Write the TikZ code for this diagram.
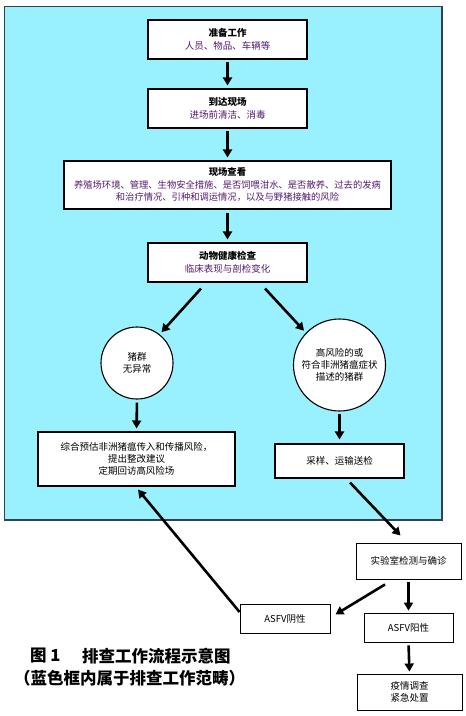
\documentclass[tikz,border=0pt]{standalone}
\usepackage{fontspec}
\setmainfont{Noto Sans CJK SC}
\usetikzlibrary{arrows.meta}
\definecolor{panel}{RGB}{153,240,254}
\definecolor{panelborder}{RGB}{55,65,75}
\definecolor{subtext}{RGB}{85,25,115}
\tikzset{
  box/.style={draw=black, line width=1.1pt, fill=white, align=center, font=\fontsize{9.5}{12.5}\selectfont, inner sep=1pt},
  roundbox/.style={draw=black, line width=1.1pt, fill=white, circle, align=center, font=\fontsize{9.5}{12}\selectfont, inner sep=0pt},
  arr/.style={line width=2.6pt, -{Triangle[length=8pt,width=9pt]}},
  captionstyle/.style={font=\fontsize{16.5}{18}\selectfont\bfseries, inner sep=0pt, anchor=west}
}
\begin{document}
\begin{tikzpicture}[x=1pt,y=-1pt]
\useasboundingbox (0,0) rectangle (466,716);
\fill[white] (0,0) rectangle (466,716);
\draw[fill=panel, draw=panelborder, line width=1.3pt] (4.5,6.5) rectangle (442,520);

\node[box, minimum width=159pt, minimum height=39pt] (b1) at (227.5,39.5)
  {{\bfseries 准备工作}\\\textcolor{subtext}{人员、物品、车辆等}};
\node[box, minimum width=159pt, minimum height=39pt] (b2) at (227.5,108.5)
  {{\bfseries 到达现场}\\\textcolor{subtext}{进场前清洁、消毒}};
\node[box, minimum width=327pt, minimum height=48pt, font=\fontsize{9.3}{12.5}\selectfont] (b3) at (227.5,185)
  {{\bfseries 现场查看}\\\textcolor{subtext}{养殖场环境、管理、生物安全措施、是否饲喂泔水、是否散养、过去的发病}\\\textcolor{subtext}{和治疗情况、引种和调运情况，以及与野猪接触的风险}};
\node[box, minimum width=159pt, minimum height=39pt] (b4) at (227.5,262.5)
  {{\bfseries 动物健康检查}\\\textcolor{subtext}{临床表现与剖检变化}};

\node[roundbox, minimum size=72pt] (cl) at (137,363) {猪群\\无异常};
\node[roundbox, minimum size=92pt] (cr) at (339.5,365) {高风险的或\\符合非洲猪瘟症状\\描述的猪群};

\node[box, minimum width=197pt, minimum height=54pt, font=\fontsize{9.5}{12}\selectfont] (bl) at (136.5,459)
  {综合预估非洲猪瘟传入和传播风险，\\提出整改建议\\定期回访高风险场};
\node[box, minimum width=129pt, minimum height=34pt] (br) at (339.5,461) {采样、运输送检};

\node[box, minimum width=105pt, minimum height=36pt, line width=0.9pt] (lab) at (408.5,561) {实验室检测与确诊};
\node[box, minimum width=89pt, minimum height=29pt, line width=0.9pt] (pos) at (408.5,627.5) {ASFV阳性};
\node[box, minimum width=105pt, minimum height=36pt, line width=0.9pt] (epi) at (409.5,692) {疫情调查\\紧急处置};
\node[box, minimum width=90pt, minimum height=29pt, line width=0.9pt] (neg) at (285,618.5) {ASFV阴性};

\draw[arr, shorten <=2pt, shorten >=3pt] (b1.south) -- (b2.north);
\draw[arr, shorten <=2pt, shorten >=3pt] (b2.south) -- (b3.north);
\draw[arr, shorten <=3pt, shorten >=3pt] (b3.south) -- (b4.north);
\draw[arr] ([xshift=-26.5pt,yshift=-6pt]b4.south) -- ([xshift=2pt,yshift=2pt]cl.52);
\draw[arr] ([xshift=37.5pt,yshift=-6pt]b4.south) -- ([xshift=-2pt,yshift=2pt]cr.136);
\draw[arr, shorten <=3pt, shorten >=3pt] (cl.south) -- (bl.north);
\draw[arr, shorten <=2pt, shorten >=4pt] (cr.south) -- (br.north);
\draw[arr] ([xshift=10.5pt,yshift=-4pt]br.south) -- ([xshift=-8pt,yshift=7pt]lab.north);
\draw[arr, shorten <=3pt, shorten >=2pt] (lab.south) -- (pos.north);
\draw[arr, shorten <=3pt, shorten >=2pt] (pos.south) -- (epi.north);
\draw[arr] ([xshift=-23.5pt,yshift=-5pt]lab.south) -- ([xshift=5pt,yshift=4pt]neg.east);
\draw[arr] ([yshift=6.5pt]neg.west) -- ([xshift=1.5pt,yshift=-3pt]bl.south);

\node[captionstyle] (c1) at (30,656) {图 1};
\node[captionstyle] (c2) at (82,656) {排查工作流程示意图};
\node[captionstyle, anchor=west] (c3) at (14,678) {（蓝色框内属于排查工作范畴）};
\end{tikzpicture}
\end{document}
